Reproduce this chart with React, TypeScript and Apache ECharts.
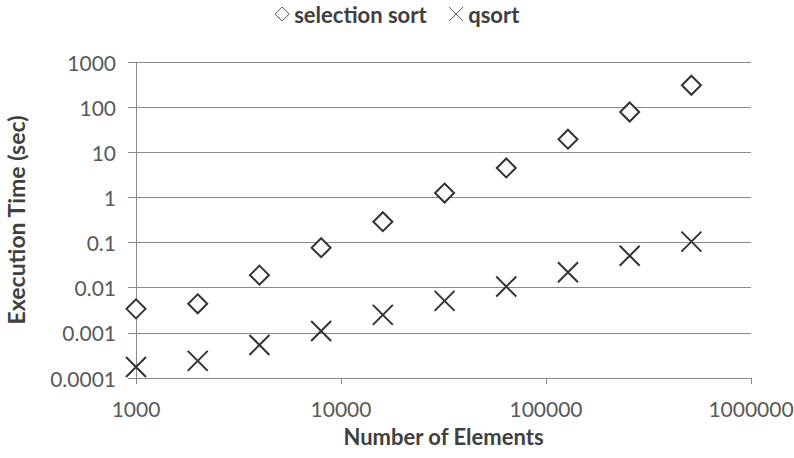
import React, { useEffect, useRef } from "react";
import * as echarts from "echarts";

const elements = [1000, 2000, 4000, 8000, 16000, 32000, 64000, 128000, 256000, 512000];
const selectionSort = [0.0034, 0.0044, 0.019, 0.077, 0.29, 1.25, 4.5, 19.5, 78, 305];
const qsort = [0.000175, 0.00024, 0.00054, 0.0011, 0.0025, 0.0051, 0.0106, 0.022, 0.051, 0.105];
const yTickLabels = ["0.0001", "0.001", "0.01", "0.1", "1", "10", "100", "1000"];
const xTickLabels = ["1000", "10000", "100000", "1000000"];

const FONT = "Lato";
const CROSS = "path://M0,0 L20,20 M20,0 L0,20";

export default function App() {
  const ref = useRef<HTMLDivElement>(null);
  useEffect(() => {
    const chart = echarts.init(ref.current!, null, { renderer: "svg" });
    chart.setOption({
      animation: false,
      backgroundColor: "#ffffff",
      textStyle: { fontFamily: FONT },
      legend: {
        top: -2,
        left: "center",
        itemGap: 20,
        itemWidth: 14,
        itemHeight: 14,
        textStyle: { fontFamily: FONT, fontSize: 22, fontWeight: "bold", color: "#404040" },
        data: [
          { name: "selection sort", icon: "diamond", itemStyle: { color: "#fff", borderColor: "#555", borderWidth: 1 } },
          { name: "qsort", icon: CROSS, itemStyle: { color: "none", borderColor: "#555", borderWidth: 1 } },
        ],
      },
      grid: { left: 136, right: 43, top: 62, bottom: 80, containLabel: false, outerBoundsMode: "none" },
      xAxis: {
        type: "log",
        logBase: 10,
        min: 1000,
        max: 1000000,
        name: "Number of Elements",
        nameLocation: "middle",
        nameGap: 47,
        nameTextStyle: { fontFamily: FONT, fontSize: 22, fontWeight: "bold", color: "#404040" },
        axisLine: { show: true, onZero: false, lineStyle: { color: "#8a8a8a", width: 1 } },
        axisTick: { show: true, length: 6, lineStyle: { color: "#8a8a8a" } },
        minorTick: { show: false },
        splitLine: { show: false },
        axisLabel: {
          fontFamily: FONT,
          fontSize: 21,
          color: "#595959",
          margin: 20,
          formatter: (v: number) => xTickLabels[Math.round(Math.log10(v)) - 3] ?? "",
        },
      },
      yAxis: {
        type: "log",
        logBase: 10,
        min: 0.0001,
        max: 1000,
        name: "Execution Time (sec)",
        nameLocation: "middle",
        nameGap: 109,
        nameRotate: 90,
        nameTextStyle: { fontFamily: FONT, fontSize: 23, fontWeight: "bold", color: "#404040" },
        axisLine: { show: true, lineStyle: { color: "#8a8a8a", width: 1 } },
        axisTick: { show: true, length: 8, lineStyle: { color: "#8a8a8a" } },
        splitLine: { show: true, lineStyle: { color: "#8a8a8a", width: 1 } },
        axisLabel: {
          fontFamily: FONT,
          fontSize: 21,
          color: "#595959",
          margin: 20,
          formatter: (v: number) => yTickLabels[Math.round(Math.log10(v)) + 4] ?? "",
        },
      },
      series: [
        {
          name: "selection sort",
          type: "scatter",
          symbol: "diamond",
          symbolSize: 19,
          itemStyle: { color: "#ffffff", borderColor: "#333333", borderWidth: 2, opacity: 1 },
          data: elements.map((x, i) => [x, selectionSort[i]]),
        },
        {
          name: "qsort",
          type: "scatter",
          symbol: CROSS,
          symbolSize: 20,
          itemStyle: { color: "none", borderColor: "#333333", borderWidth: 2, opacity: 1 },
          data: elements.map((x, i) => [x, qsort[i]]),
        },
      ],
    });
    return () => chart.dispose();
  }, []);
  return <div ref={ref} style={{ width: 794, height: 458, position: "absolute", left: 0, top: 0 }} />;
}
